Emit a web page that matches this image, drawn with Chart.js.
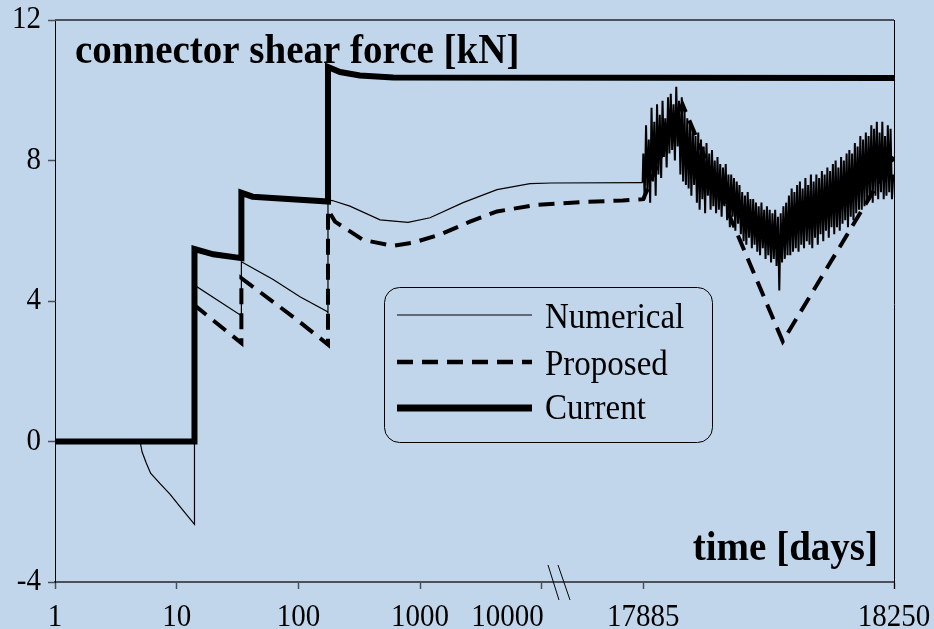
<!DOCTYPE html>
<html>
<head>
<meta charset="utf-8">
<script src="https://cdn.jsdelivr.net/npm/chart.js@4.4.1/dist/chart.umd.min.js"></script>
<style>
  html, body { margin: 0; padding: 0; background: #c2d6eb; }
  canvas { display: block; }
</style>
</head>
<body>
<canvas id="shearChart" width="934" height="629"></canvas>
<script>
// x ticks (days) and y ticks (kN)
const xTickDays = [1, 10, 100, 1000, 10000, 17885, 18250];
const xTickLabels = ["1", "10", "100", "1000", "10000", "17885", "18250"];
const yTicks = [-4, 0, 4, 8, 12];

// current design method
const currentDays = [1, 14, 14, 20, 34, 34, 42, 175, 175, 220, 320, 600, 18250];
const currentForce = [0, 0, 5.48, 5.33, 5.22, 7.08, 6.97, 6.83, 10.66, 10.52, 10.42, 10.36, 10.35];

// proposed method
const proposedDays = [1, 14, 14, 34, 34, 97, 175, 175, 200, 340, 599, 874, 1457, 2570, 4285, 9140,
  17797, 17855, 17885, 17942, 18088, 18250];
const proposedForce = [0, 0, 3.88, 2.8, 4.65, 3.47, 2.76, 6.6, 6.26, 5.74, 5.57, 5.66, 5.89, 6.26, 6.55, 6.74,
  6.82, 6.86, 6.9, 9.6, 2.85, 8.1];

// numerical model, up to the start of the last year
const numericalDays = [1, 5, 5.2, 5.6, 6.1, 7.3, 8.8, 10.6, 14, 14, 34, 34, 62, 103, 172, 175, 175, 190,
  265, 469, 796, 1206, 2253, 4285, 8000, 12000, 17884];
const numericalForce = [0, 0, -0.3, -0.6, -0.9, -1.2, -1.5, -1.85, -2.36, 4.45, 3.58, 5.12, 4.61, 4.12, 3.7, 3.66, 6.88, 6.86,
  6.7, 6.31, 6.24, 6.37, 6.8, 7.17, 7.34, 7.36, 7.37];

// numerical model over the last year, one value every 2 days
const noiseStartDay = 17885;
const noiseStepDays = 2;
const numericalNoise = [
  8.2, 6.9, 9.0, 7.1, 8.6, 6.8, 9.5, 7.4, 9.1, 7.0,
  9.6, 7.6, 9.3, 7.5, 9.7, 8.1, 9.2, 7.8, 9.8, 8.2,
  9.9, 8.3, 9.6, 8.0, 10.1, 8.4, 9.7, 7.6, 9.8, 7.4,
  9.4, 7.3, 9.2, 7.2, 9.1, 7.0, 8.9, 7.3, 8.7, 6.8,
  8.8, 6.6, 8.6, 6.9, 8.4, 6.5, 8.5, 7.0, 8.2, 6.6,
  8.3, 6.7, 8.0, 6.5, 8.1, 6.6, 7.9, 6.4, 7.8, 6.7,
  7.9, 6.3, 7.6, 6.1, 7.6, 6.4, 7.5, 6.0, 7.4, 6.2,
  7.3, 5.9, 7.1, 5.7, 7.0, 5.6, 7.1, 5.8, 6.9, 5.5,
  6.9, 5.6, 6.8, 5.4, 6.7, 5.3, 6.8, 5.5, 6.6, 5.2,
  6.7, 5.3, 6.6, 5.1, 6.5, 5.2, 6.6, 5.0, 6.4, 4.3,
  6.5, 5.1, 6.7, 5.2, 6.8, 5.3, 7.0, 5.3, 7.2, 5.4,
  7.1, 5.5, 7.3, 5.4, 7.4, 5.6, 7.2, 5.5, 7.5, 5.7,
  7.3, 5.6, 7.6, 5.5, 7.4, 5.8, 7.6, 5.6, 7.5, 5.9,
  7.7, 5.7, 7.6, 6.0, 7.8, 5.8, 7.7, 6.1, 7.9, 5.9,
  8.0, 6.1, 7.8, 6.0, 8.1, 6.2, 8.0, 6.3, 8.2, 6.1,
  8.3, 6.4, 8.2, 6.3, 8.5, 6.5, 8.4, 6.6, 8.7, 6.6,
  8.6, 6.7, 8.8, 6.8, 8.7, 6.9, 9.0, 6.8, 8.9, 7.0,
  9.1, 6.9, 8.8, 7.1, 9.1, 6.9, 8.7, 7.0, 9.0, 7.1,
  8.9, 6.9, 7.6
];

// broken time axis: log decades up to the break, then the last year on a linear scale
const LOG_END_DAY = 12000;
const LIN_REF_DAY = 17885;
const LIN_REF_POS = 4.834;
const LIN_SLOPE = (6.894 - LIN_REF_POS) / 365;

function dayToPos(d) {
  if (d <= LOG_END_DAY) return Math.log10(d);
  return LIN_REF_POS + (d - LIN_REF_DAY) * LIN_SLOPE;
}

function toPoints(days, values) {
  return days.map((d, i) => ({ x: dayToPos(d), y: values[i] }));
}

const numericalPoints = toPoints(numericalDays, numericalForce).concat(
  numericalNoise.map((v, i) => ({ x: dayToPos(noiseStartDay + i * noiseStepDays), y: v }))
);

const SERIF = '"Liberation Serif", "Times New Roman", serif';
const AXIS_GRAY = "#4a505c";
const BG = "#c2d6eb";

// serif text is drawn slightly taller than wide
function drawText(ctx, text, x, y, align, baseline) {
  ctx.save();
  ctx.translate(x, y);
  ctx.scale(1, 1.1);
  ctx.textAlign = align;
  ctx.textBaseline = baseline;
  ctx.fillText(text, 0, 0);
  ctx.restore();
}

const decorPlugin = {
  id: "decor",
  beforeDraw(chart) {
    const ctx = chart.ctx;
    ctx.save();
    ctx.fillStyle = BG;
    ctx.fillRect(0, 0, chart.width, chart.height);
    ctx.restore();
  },
  afterDraw(chart) {
    const ctx = chart.ctx;
    const area = chart.chartArea;
    const xScale = chart.scales.x;
    const yScale = chart.scales.y;
    ctx.save();

    // top and right frame
    ctx.strokeStyle = AXIS_GRAY;
    ctx.lineWidth = 2;
    ctx.beginPath();
    ctx.moveTo(area.left, area.top);
    ctx.lineTo(area.right, area.top);
    ctx.stroke();
    ctx.strokeStyle = "#000";
    ctx.lineWidth = 1;
    ctx.beginPath();
    ctx.moveTo(area.right + 0.5, area.top);
    ctx.lineTo(area.right + 0.5, area.bottom + 7);
    ctx.stroke();

    // axis break marks
    ctx.beginPath();
    ctx.moveTo(548, area.bottom - 17);
    ctx.lineTo(559, area.bottom + 18);
    ctx.moveTo(558, area.bottom - 17);
    ctx.lineTo(570, area.bottom + 18);
    ctx.stroke();

    // tick labels
    ctx.fillStyle = "#000";
    ctx.font = "29px " + SERIF;
    xTickDays.forEach((d, i) => {
      const px = xScale.getPixelForValue(dayToPos(d));
      if (d === 10000) {
        drawText(ctx, xTickLabels[i], px + 2, 626, "right", "alphabetic");
      } else {
        drawText(ctx, xTickLabels[i], px, 626, "center", "alphabetic");
      }
    });
    yTicks.forEach((v) => {
      drawText(ctx, String(v), 41, yScale.getPixelForValue(v), "right", "middle");
    });

    // axis titles
    ctx.font = "bold 39px " + SERIF;
    drawText(ctx, "connector shear force [kN]", 75, 63, "left", "alphabetic");
    drawText(ctx, "time [days]", 878, 560, "right", "alphabetic");

    // legend
    const bx = 384.5, by = 287.5, bw = 328, bh = 155, r = 15;
    ctx.lineWidth = 1;
    ctx.setLineDash([]);
    ctx.beginPath();
    ctx.moveTo(bx + r, by);
    ctx.arcTo(bx + bw, by, bx + bw, by + bh, r);
    ctx.arcTo(bx + bw, by + bh, bx, by + bh, r);
    ctx.arcTo(bx, by + bh, bx, by, r);
    ctx.arcTo(bx, by, bx + bw, by, r);
    ctx.closePath();
    ctx.stroke();

    const rows = [
      { ds: chart.data.datasets[0], lineY: 315, textY: 328, width: 1 },
      { ds: chart.data.datasets[1], lineY: 362, textY: 375, width: 4.5 },
      { ds: chart.data.datasets[2], lineY: 408, textY: 419, width: 7 }
    ];
    ctx.font = "33px " + SERIF;
    rows.forEach((row) => {
      ctx.lineWidth = row.width;
      ctx.setLineDash(row.ds.borderDash || []);
      ctx.lineCap = "butt";
      ctx.beginPath();
      ctx.moveTo(397, row.lineY);
      ctx.lineTo(532, row.lineY);
      ctx.stroke();
      drawText(ctx, row.ds.label, 545, row.textY, "left", "alphabetic");
    });
    ctx.restore();
  }
};

const noiseFrom = numericalDays.length - 1;

const chart = new Chart(document.getElementById("shearChart"), {
  type: "line",
  data: {
    datasets: [
      {
        label: "Numerical",
        data: numericalPoints,
        borderColor: "#000",
        borderWidth: 1.2,
        segment: {
          borderWidth: (c) => (c.p0DataIndex >= noiseFrom ? 2 : 1.2)
        },
        order: 2
      },
      {
        label: "Proposed",
        data: toPoints(proposedDays, proposedForce),
        borderColor: "#000",
        borderWidth: 4,
        borderDash: [16, 9],
        order: 3
      },
      {
        label: "Current",
        data: toPoints(currentDays, currentForce),
        borderColor: "#000",
        borderWidth: 6,
        order: 1
      }
    ]
  },
  options: {
    responsive: false,
    animation: false,
    events: [],
    layout: { padding: { top: 20, right: 40, left: 0, bottom: 0 } },
    elements: {
      point: { radius: 0 },
      line: { tension: 0, fill: false }
    },
    plugins: {
      legend: { display: false },
      tooltip: { enabled: false }
    },
    scales: {
      x: {
        type: "linear",
        min: 0,
        max: dayToPos(18250),
        afterBuildTicks: (scale) => {
          scale.ticks = xTickDays.map((d) => ({ value: dayToPos(d) }));
        },
        afterFit: (scale) => { scale.height = 47; },
        ticks: { display: false },
        grid: {
          drawOnChartArea: false,
          tickLength: 7,
          tickColor: AXIS_GRAY,
          tickWidth: 1.5
        },
        border: { color: AXIS_GRAY, width: 2 }
      },
      y: {
        min: -4,
        max: 12,
        afterBuildTicks: (scale) => {
          scale.ticks = yTicks.map((v) => ({ value: v }));
        },
        afterFit: (scale) => { scale.width = 55; },
        ticks: { display: false },
        grid: {
          drawOnChartArea: false,
          tickLength: 7,
          tickColor: AXIS_GRAY,
          tickWidth: 1.5
        },
        border: { color: "#000", width: 1 }
      }
    }
  },
  plugins: [decorPlugin]
});
</script>
</body>
</html>
